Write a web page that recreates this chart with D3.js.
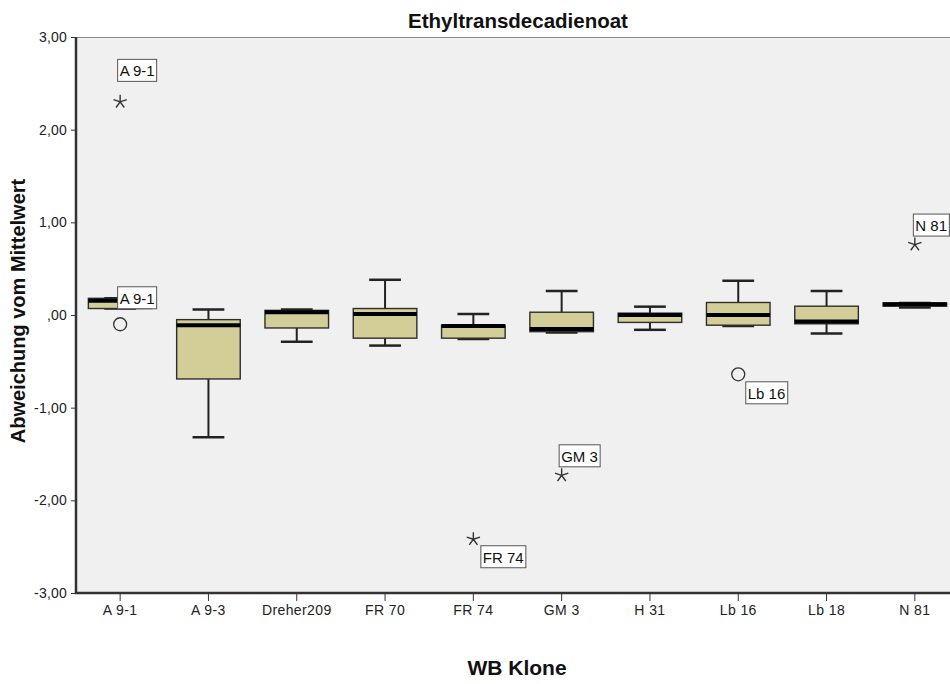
<!DOCTYPE html>
<html>
<head>
<meta charset="utf-8">
<script src="https://cdn.jsdelivr.net/npm/d3@7"></script>
<style>
  body { margin: 0; background: #fff; }
  text { font-family: "Liberation Sans", Arial, sans-serif; }
</style>
</head>
<body>
<svg id="chart"></svg>
<script>
const categories = ["A 9-1", "A 9-3", "Dreher209", "FR 70", "FR 74", "GM 3", "H 31", "Lb 16", "Lb 18", "N 81"];
const whiskerLow  = [0.07, -1.32, -0.29, -0.33, -0.26, -0.19, -0.16, -0.12, -0.20, 0.08];
const q1          = [0.07, -0.69, -0.14, -0.25, -0.25, -0.18, -0.08, -0.11, -0.095, 0.095];
const median      = [0.155, -0.11, 0.03, 0.01, -0.12, -0.15, 0.0, 0.0, -0.07, 0.115];
const q3          = [0.18, -0.05, 0.05, 0.07, -0.11, 0.03, 0.02, 0.135, 0.095, 0.13];
const whiskerHigh = [0.18, 0.06, 0.06, 0.38, 0.01, 0.26, 0.09, 0.37, 0.26, 0.13];

// Ausreißer: Kategorie, Wert, Typ (circle = Ausreißer, star = Extremwert)
const outlierCats   = ["A 9-1", "A 9-1", "FR 74", "GM 3", "Lb 16", "N 81"];
const outlierValues = [2.30, -0.10, -2.42, -1.73, -0.64, 0.76];
const outlierTypes  = ["star", "circle", "star", "star", "circle", "star"];
const outlierLabels = ["A 9-1", "A 9-1", "FR 74", "GM 3", "Lb 16", "N 81"];

const yTicks = [-3, -2, -1, 0, 1, 2, 3];
const yTickLabels = ["-3,00", "-2,00", "-1,00", ",00", "1,00", "2,00", "3,00"];

// Lage der Beschriftungskästchen relativ zum Punkt
const labelDx = [-3, -3, 7, -3, 7, -2];
const labelDy = [-43, -38, 6, -31, 7, -31];

const width = 950;
const height = 684;
const plot = { left: 76, top: 37, right: 959, bottom: 593 };

const svg = d3.select("#chart").attr("width", width).attr("height", height);

const x = d3.scaleBand()
  .domain(categories)
  .range([plot.left, plot.right]);

const y = d3.scaleLinear()
  .domain([-3, 3])
  .range([plot.bottom, plot.top]);

const boxW = x.bandwidth() * 0.72;
const capW = boxW / 2;
const cx = (c) => x(c) + x.bandwidth() / 2;

// Hintergrund
svg.append("rect")
  .attr("x", plot.left).attr("y", plot.top)
  .attr("width", plot.right - plot.left).attr("height", plot.bottom - plot.top)
  .attr("fill", "#f0f0f0");

svg.append("line")
  .attr("x1", plot.left).attr("x2", width)
  .attr("y1", plot.top + 0.5).attr("y2", plot.top + 0.5)
  .attr("stroke", "#8c8c8c").attr("stroke-width", 1);

const boxes = categories.map((c, i) => ({
  c, lo: whiskerLow[i], q1: q1[i], med: median[i], q3: q3[i], hi: whiskerHigh[i]
}));

const g = svg.append("g");

const box = g.selectAll("g.box").data(boxes).join("g").attr("class", "box");

// Whisker
box.append("line")
  .attr("x1", (d) => cx(d.c)).attr("x2", (d) => cx(d.c))
  .attr("y1", (d) => y(d.hi)).attr("y2", (d) => y(d.q3))
  .attr("stroke", "#222").attr("stroke-width", 2);
box.append("line")
  .attr("x1", (d) => cx(d.c)).attr("x2", (d) => cx(d.c))
  .attr("y1", (d) => y(d.q1)).attr("y2", (d) => y(d.lo))
  .attr("stroke", "#222").attr("stroke-width", 2);
box.append("line")
  .attr("x1", (d) => cx(d.c) - capW / 2).attr("x2", (d) => cx(d.c) + capW / 2)
  .attr("y1", (d) => y(d.hi)).attr("y2", (d) => y(d.hi))
  .attr("stroke", "#222").attr("stroke-width", 2.5);
box.append("line")
  .attr("x1", (d) => cx(d.c) - capW / 2).attr("x2", (d) => cx(d.c) + capW / 2)
  .attr("y1", (d) => y(d.lo)).attr("y2", (d) => y(d.lo))
  .attr("stroke", "#222").attr("stroke-width", 2.5);

// Box
box.append("rect")
  .attr("x", (d) => cx(d.c) - boxW / 2)
  .attr("y", (d) => y(d.q3))
  .attr("width", boxW)
  .attr("height", (d) => Math.max(1, y(d.q1) - y(d.q3)))
  .attr("fill", "#d3ce97")
  .attr("stroke", "#2e2e2e").attr("stroke-width", 1.4);

// Median
box.append("line")
  .attr("x1", (d) => cx(d.c) - boxW / 2).attr("x2", (d) => cx(d.c) + boxW / 2)
  .attr("y1", (d) => y(d.med)).attr("y2", (d) => y(d.med))
  .attr("stroke", "#000").attr("stroke-width", 4);

// Ausreißer
const outliers = outlierCats.map((c, i) => ({
  c, v: outlierValues[i], t: outlierTypes[i], label: outlierLabels[i], dx: labelDx[i], dy: labelDy[i]
}));

const starPath = (r) => {
  let p = "";
  for (let k = 0; k < 5; k++) {
    const a = -Math.PI / 2 + k * 2 * Math.PI / 5;
    p += `M0,0L${(r * Math.cos(a)).toFixed(2)},${(r * Math.sin(a)).toFixed(2)}`;
  }
  return p;
};

const og = g.selectAll("g.out").data(outliers).join("g")
  .attr("class", "out")
  .attr("transform", (d) => `translate(${cx(d.c)},${y(d.v)})`);

og.filter((d) => d.t === "circle").append("circle")
  .attr("r", 6.5).attr("fill", "none")
  .attr("stroke", "#333").attr("stroke-width", 1.3);

og.filter((d) => d.t === "star").append("path")
  .attr("d", starPath(7)).attr("fill", "none")
  .attr("stroke", "#333").attr("stroke-width", 1.4);

// Beschriftungen
og.each(function (d) {
  const sel = d3.select(this);
  const t = sel.append("text")
    .attr("x", d.dx + 2.5).attr("y", d.dy + 12)
    .attr("dy", "0.35em")
    .attr("font-size", 15)
    .attr("fill", "#111")
    .text(d.label);
  const w = t.node().getComputedTextLength();
  sel.insert("rect", "text")
    .attr("x", d.dx + 0.5).attr("y", d.dy + 0.5)
    .attr("width", Math.round(w + 4)).attr("height", 22)
    .attr("fill", "#fff")
    .attr("stroke", "#555").attr("stroke-width", 1);
});

// y-Achse
const yAxis = svg.append("g")
  .attr("transform", `translate(${plot.left},0)`)
  .call(d3.axisLeft(y).tickValues(yTicks).tickSize(5).tickPadding(4)
    .tickFormat((d) => yTickLabels[yTicks.indexOf(d)]));
yAxis.select(".domain").remove();
yAxis.selectAll(".tick line").attr("stroke", "#333");
yAxis.selectAll(".tick text").attr("font-size", 14).attr("fill", "#222")
  .attr("letter-spacing", 0.2)
  .attr("font-family", "'Liberation Sans', Arial, sans-serif");
svg.append("line")
  .attr("x1", plot.left).attr("x2", plot.left)
  .attr("y1", plot.top).attr("y2", plot.bottom)
  .attr("stroke", "#333").attr("stroke-width", 2.5);

// x-Achse
const xAxis = svg.append("g")
  .attr("transform", `translate(0,${plot.bottom})`)
  .call(d3.axisBottom(x).tickSize(8).tickPadding(4));
xAxis.select(".domain").remove();
xAxis.selectAll(".tick line").attr("stroke", "#333");
xAxis.selectAll(".tick text").attr("font-size", 14).attr("fill", "#222")
  .attr("letter-spacing", 0.4)
  .attr("font-family", "'Liberation Sans', Arial, sans-serif");
svg.append("line")
  .attr("x1", plot.left - 1).attr("x2", width)
  .attr("y1", plot.bottom).attr("y2", plot.bottom)
  .attr("stroke", "#333").attr("stroke-width", 2.5);

// Titel und Achsentitel
svg.append("text")
  .attr("x", 518).attr("y", 28)
  .attr("text-anchor", "middle")
  .attr("font-size", 20.5).attr("font-weight", "bold")
  .attr("fill", "#111")
  .text("Ethyltransdecadienoat");

svg.append("text")
  .attr("transform", "translate(25,311) rotate(-90)")
  .attr("text-anchor", "middle")
  .attr("font-size", 20).attr("font-weight", "bold")
  .attr("fill", "#111")
  .text("Abweichung vom Mittelwert");

svg.append("text")
  .attr("x", 517).attr("y", 675)
  .attr("text-anchor", "middle")
  .attr("font-size", 21).attr("font-weight", "bold")
  .attr("fill", "#111")
  .text("WB Klone");
</script>
</body>
</html>
